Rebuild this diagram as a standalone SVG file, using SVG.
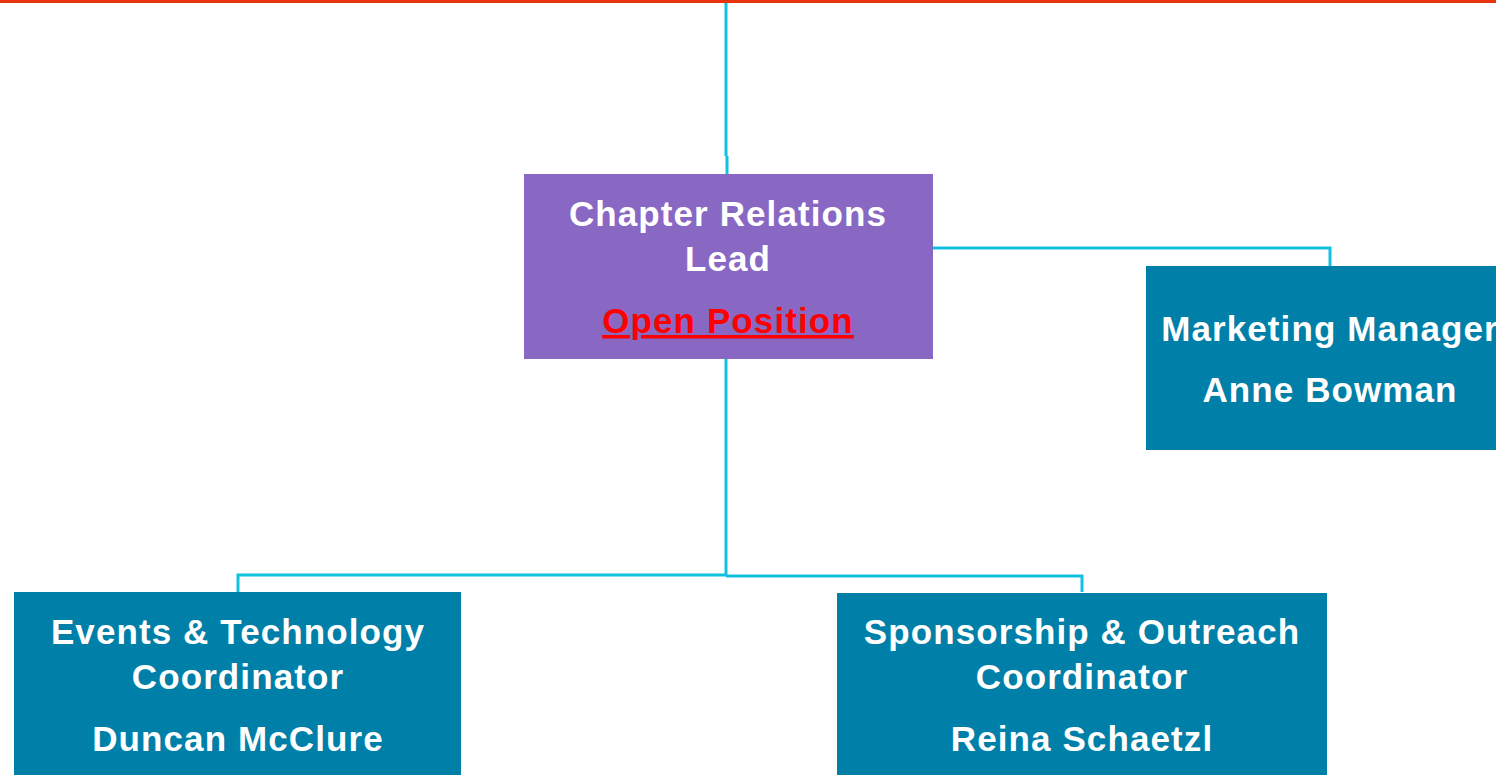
<svg xmlns="http://www.w3.org/2000/svg" width="1496" height="775" viewBox="0 0 1496 775">
<style>
.t{font-family:"Liberation Sans",Arial,sans-serif;font-weight:bold;font-size:35px;letter-spacing:1.1px;fill:#fff;text-anchor:middle}
.c{fill:none;stroke:#12C0E0;stroke-width:3}
</style>
<rect width="1496" height="775" fill="#fff"/>
<rect x="0" y="0" width="1496" height="3" fill="#E8340E"/>
<g id="connectors">
<path class="c" d="M726 3V156M727 156V174"/>
<path class="c" d="M933 248H1330V266"/>
<path class="c" d="M726 359V575"/>
<path class="c" d="M726 575H238V592"/>
<path class="c" d="M726 576H1082V592"/>
</g>
<g id="lead">
<rect x="524" y="174" width="409" height="185" fill="#8968C4"/>
<text class="t" x="728" y="226">Chapter Relations</text>
<text class="t" x="728" y="271">Lead</text>
<text class="t" x="728" y="333" style="fill:#FF0000;text-decoration:underline">Open Position</text>
</g>
<g id="marketing">
<rect x="1146" y="266" width="360" height="184" fill="#0080A8"/>
<text class="t" x="1330" y="341">Marketing Manager</text>
<text class="t" x="1330" y="402">Anne Bowman</text>
</g>
<g id="events">
<rect x="14" y="592" width="447" height="190" fill="#0080A8"/>
<text class="t" x="238" y="644">Events &amp; Technology</text>
<text class="t" x="238" y="689">Coordinator</text>
<text class="t" x="238" y="751">Duncan McClure</text>
</g>
<g id="sponsorship">
<rect x="837" y="593" width="490" height="190" fill="#0080A8"/>
<text class="t" x="1082" y="644">Sponsorship &amp; Outreach</text>
<text class="t" x="1082" y="689">Coordinator</text>
<text class="t" x="1082" y="751">Reina Schaetzl</text>
</g>
</svg>
